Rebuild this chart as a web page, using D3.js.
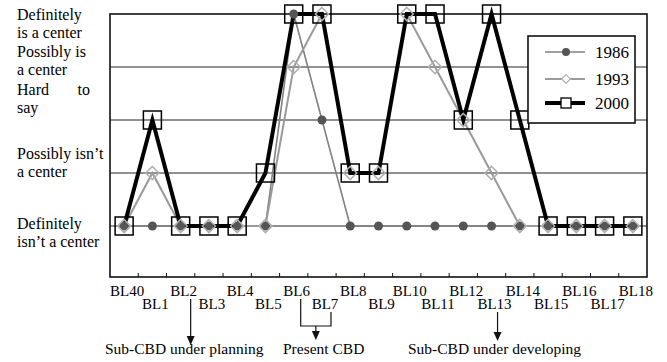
<!DOCTYPE html>
<html>
<head>
<meta charset="utf-8">
<script src="https://cdn.jsdelivr.net/npm/d3@7"></script>
<style>
  body { margin: 0; background: #fff; }
  svg { display: block; font-family: "Liberation Serif", "Times New Roman", serif; }
</style>
</head>
<body>
<svg></svg>
<script>
// chart data
var categories = ["BL40","BL1","BL2","BL3","BL4","BL5","BL6","BL7","BL8","BL9",
                  "BL10","BL11","BL12","BL13","BL14","BL15","BL16","BL17","BL18"];
// 1 = definitely isn't ... 5 = definitely is a center
var y1986 = [1,1,1,1,1,1,5,3,1,1,1,1,1,1,1,1,1,1,1];
var y1993 = [1,2,1,1,1,1,4,5,2,2,5,4,3,2,1,1,1,1,1];
var y2000 = [1,3,1,1,1,2,5,5,2,2,5,5,3,5,3,1,1,1,1];
var seriesNames = ["1986","1993","2000"];
var levelLabels = [
  ["Definitely", "isn\u2019t a center"],
  ["Possibly isn\u2019t", "a center"],
  ["Hard to", "say"],
  ["Possibly is", "a center"],
  ["Definitely", "is a center"]
];
var notes = ["Sub-CBD under planning", "Present CBD", "Sub-CBD under developing"];

var width = 667, height = 362;
var svg = d3.select("svg").attr("width", width).attr("height", height);

// plot box
var pLeft = 110, pRight = 647, pTop = 14, pBottom = 277;

var x = d3.scaleBand().domain(categories).range([pLeft, pRight]);
var y = d3.scaleLinear().domain([1, 5]).range([226, pTop]);
var cx = function(c) { return x(c) + x.bandwidth() / 2; };

// gridlines
svg.append("g").selectAll("line")
   .data([1, 2, 3, 4])
   .enter().append("line")
   .attr("x1", pLeft).attr("x2", pRight)
   .attr("y1", d => y(d)).attr("y2", d => y(d))
   .attr("stroke", "#222").attr("stroke-width", 1);

// frame
svg.append("rect")
   .attr("x", pLeft).attr("y", pTop)
   .attr("width", pRight - pLeft).attr("height", pBottom - pTop)
   .attr("fill", "none").attr("stroke", "#111").attr("stroke-width", 1.6);

// ticks between categories
svg.append("g").selectAll("line")
   .data(categories.slice(1))
   .enter().append("line")
   .attr("x1", d => x(d)).attr("x2", d => x(d))
   .attr("y1", pBottom).attr("y2", pBottom - 4)
   .attr("stroke", "#111").attr("stroke-width", 1);

// x labels in two rows
svg.append("g").selectAll("text")
   .data(categories)
   .enter().append("text")
   .attr("x", d => cx(d) + 3)
   .attr("y", (d, i) => i % 2 === 0 ? 296 : 309)
   .attr("text-anchor", "middle")
   .attr("font-size", 15)
   .text(d => d);

// y level labels
var labelBase = [229, 159, 95, 57, 20];
levelLabels.forEach(function(lines, i) {
  lines.forEach(function(t, j) {
    var by = labelBase[i] + j * 18;
    if (t === "Hard to") {
      svg.append("text").attr("x", 17).attr("y", by).attr("font-size", 16).text("Hard");
      svg.append("text").attr("x", 90).attr("y", by).attr("font-size", 16)
         .attr("text-anchor", "end").text("to");
    } else {
      svg.append("text").attr("x", 17).attr("y", by).attr("font-size", 16).text(t);
    }
  });
});

// lines
var line = function(vals) {
  return d3.line().x((d, i) => cx(categories[i])).y(d => y(d))(vals);
};
svg.append("path").attr("d", line(y1986)).attr("fill", "none")
   .attr("stroke", "#808080").attr("stroke-width", 1.6);
svg.append("path").attr("d", line(y1993)).attr("fill", "none")
   .attr("stroke", "#9a9a9a").attr("stroke-width", 2);
svg.append("path").attr("d", line(y2000)).attr("fill", "none")
   .attr("stroke", "#000").attr("stroke-width", 4).attr("stroke-linejoin", "miter");

// markers
svg.append("g").selectAll("circle")
   .data(y1986).enter().append("circle")
   .attr("cx", (d, i) => cx(categories[i])).attr("cy", d => y(d))
   .attr("r", 4.5).attr("fill", "#555");

var diamond = d3.symbol().type(d3.symbolDiamond2).size(110);
svg.append("g").selectAll("path")
   .data(y1993).enter().append("path")
   .attr("d", diamond)
   .attr("transform", (d, i) => "translate(" + cx(categories[i]) + "," + y(d) + ")")
   .attr("fill", "none").attr("stroke", "#b0b0b0").attr("stroke-width", 1.5);

svg.append("g").selectAll("rect")
   .data(y2000).enter().append("rect")
   .attr("x", (d, i) => cx(categories[i]) - 9).attr("y", d => y(d) - 9)
   .attr("width", 18).attr("height", 18)
   .attr("fill", "none").attr("stroke", "#000").attr("stroke-width", 1.5);

// legend
var lg = svg.append("g");
lg.append("rect").attr("x", 528).attr("y", 36).attr("width", 107).attr("height", 87)
  .attr("fill", "#fff").attr("stroke", "#111").attr("stroke-width", 1.6);
var legY = [52, 79, 103];
var legStroke = ["#808080", "#9a9a9a", "#000"];
var legWidth = [1.6, 2, 4];
seriesNames.forEach(function(name, i) {
  lg.append("line").attr("x1", 545).attr("x2", 585)
    .attr("y1", legY[i]).attr("y2", legY[i])
    .attr("stroke", legStroke[i]).attr("stroke-width", legWidth[i]);
  lg.append("text").attr("x", 595).attr("y", legY[i] + 6)
    .attr("font-size", 17).text(name);
});
lg.append("circle").attr("cx", 566).attr("cy", legY[0]).attr("r", 4).attr("fill", "#555");
lg.append("path").attr("d", d3.symbol().type(d3.symbolDiamond2).size(50))
  .attr("transform", "translate(566," + legY[1] + ")")
  .attr("fill", "#fff").attr("stroke", "#b0b0b0").attr("stroke-width", 1.2);
lg.append("rect").attr("x", 561).attr("y", legY[2] - 5).attr("width", 10).attr("height", 10)
  .attr("fill", "#fff").attr("stroke", "#000").attr("stroke-width", 1.3);

// annotations below the axis
var ann = svg.append("g").attr("stroke", "#111").attr("stroke-width", 1.2).attr("fill", "none");
function arrowHead(ax, tipY) {
  svg.append("path")
     .attr("d", "M" + (ax - 4) + "," + (tipY - 9) + "L" + (ax + 4) + "," + (tipY - 9) + "L" + ax + "," + tipY + "Z")
     .attr("fill", "#111");
}
var a1 = cx("BL2") + 10;
ann.append("line").attr("x1", a1).attr("x2", a1).attr("y1", 299).attr("y2", 338);
arrowHead(a1, 345);

var b1 = cx("BL6") + 7, b2 = cx("BL7") + 9, bm = (b1 + b2) / 2;
ann.append("path").attr("d", "M" + b1 + ",299V326H" + b2 + "V312");
ann.append("line").attr("x1", bm).attr("x2", bm).attr("y1", 326).attr("y2", 334);
arrowHead(bm, 340);

var a3 = cx("BL13") + 6;
ann.append("line").attr("x1", a3).attr("x2", a3).attr("y1", 312).attr("y2", 334);
arrowHead(a3, 341);

var noteX = [105, 283, 408];
svg.append("g").selectAll("text")
   .data(notes).enter().append("text")
   .attr("x", (d, i) => noteX[i]).attr("y", 354)
   .attr("font-size", 15.5)
   .text(d => d);
</script>
</body>
</html>
